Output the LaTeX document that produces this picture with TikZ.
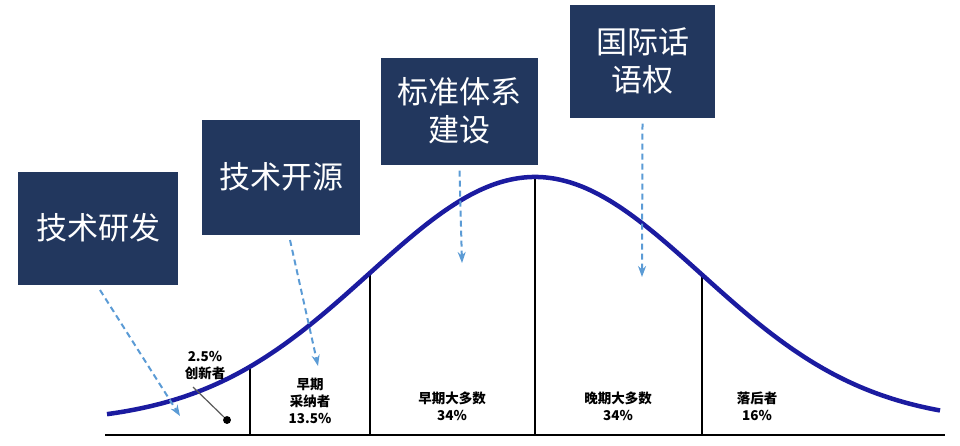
\documentclass[tikz,border=0pt]{standalone}
\usepackage{fontspec}
\usetikzlibrary{arrows.meta}
\newfontfamily\cjk{Noto Sans CJK SC}
\begin{document}
\begin{tikzpicture}[x=1pt,y=-1pt,
 box/.style={fill=navy,text=white,font=\cjk\fontsize{31}{38}\selectfont,align=center,inner sep=0},
 arr/.style={dashed,dash pattern=on 6pt off 4pt,draw=arrblue,line width=2pt,-{Stealth[length=11pt,width=8pt]}},
 lab/.style={font=\cjk\bfseries\fontsize{13.5}{17}\selectfont,align=center}]
\definecolor{navy}{HTML}{22375E}
\definecolor{arrblue}{HTML}{5B9BD5}
\definecolor{curve}{HTML}{1B1BA0}
\useasboundingbox (0,0) rectangle (960,445);
\draw[line width=2.2pt] (105,435) -- (945,435);
\foreach \x in {250,370,535,702}
  \draw[line width=2pt] (\x,435) -- (\x,{423-246*exp(-((\x-535)/166)^2/2)});
\draw[curve,line width=4.5pt,domain=107:940,samples=150,smooth] plot (\x,{423-246*exp(-((\x-535)/166)^2/2)});
\node[box,minimum width=160pt,minimum height=113pt] (b1) at (98,228) {技术研发};
\node[box,minimum width=158pt,minimum height=115pt] (b2) at (281,177) {技术开源};
\node[box,minimum width=157pt,minimum height=107pt] (b3) at (459.5,111) {标准体系\\建设};
\node[box,minimum width=145pt,minimum height=113pt] (b4) at (642.5,61) {国际话\\语权};
\coordinate (e1) at (180,416); \coordinate (e2) at (318,366);
\coordinate (e3) at (462,263); \coordinate (e4) at (642,277);
\draw[arr] (100,290) -- (e1);
\draw[arr] (290,240) -- (e2);
\draw[arr] ([yshift=-6pt]b3.south) -- (e3);
\draw[arr] ([yshift=-6pt]b4.south) -- (e4);
\node[lab] (l0) at (205,366) {2.5\%\\创新者};
\node[circle,fill=black,inner sep=2.8pt] (dot) at (227,420) {};
\draw[gray!70!black,line width=1.2pt] (193,387) -- (dot);
\node[lab] (l1) at (310,401) {早期\\采纳者\\13.5\%};
\node[lab] (l2) at (452,406) {早期大多数\\34\%};
\node[lab] (l3) at (618,406) {晚期大多数\\34\%};
\node[lab] (l4) at (757,406) {落后者\\16\%};
\end{tikzpicture}
\end{document}
